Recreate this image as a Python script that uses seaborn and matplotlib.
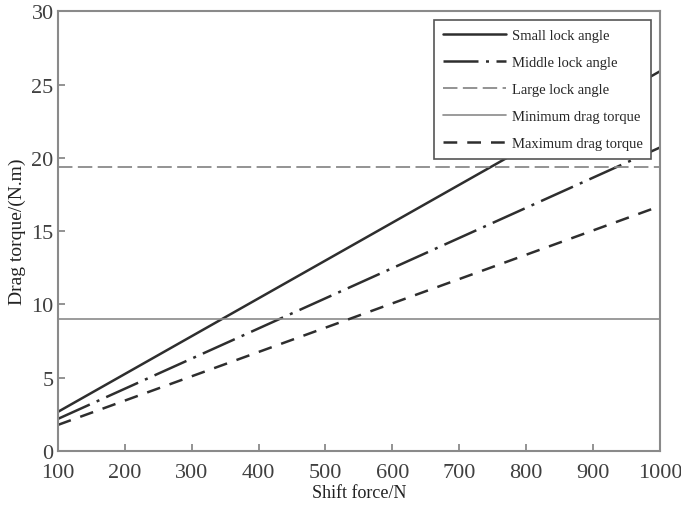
import numpy as np
import pandas as pd
import matplotlib
matplotlib.use('Agg')
import matplotlib.pyplot as plt
import seaborn as sns

# data (straight lines -> end points)
force = [100, 1000]
small_lock = [2.66, 25.9]
middle_lock = [2.18, 20.7]
large_lock = [1.77, 16.7]
min_drag = [9.0, 9.0]
max_drag = [19.4, 19.4]

labels = ['Small lock angle', 'Middle lock angle', 'Large lock angle',
          'Minimum drag torque', 'Maximum drag torque']
xticks = [100, 200, 300, 400, 500, 600, 700, 800, 900, 1000]
yticks = [0, 5, 10, 15, 20, 25, 30]

sns.set_style('white')
plt.rcParams['font.family'] = ['Liberation Serif', 'DejaVu Serif']

dark = '#2e2e2e'
grey = '#8a8a8a'

fig = plt.figure(figsize=(6.81, 5.10), dpi=100)
ax = fig.add_axes([0.085, 0.114, 0.884, 0.862])

# legend order follows the picture (labels as printed there)
sns.lineplot(x=force, y=small_lock, ax=ax, color=dark, lw=1.8, label=labels[0])
sns.lineplot(x=force, y=middle_lock, ax=ax, color=dark, lw=1.8, label=labels[1])
ax.lines[-1].set_dashes([14, 3, 1.2, 3])
sns.lineplot(x=force, y=max_drag, ax=ax, color=grey, lw=1.3, label=labels[2])
ax.lines[-1].set_dashes([8, 3])
sns.lineplot(x=force, y=min_drag, ax=ax, color=grey, lw=1.2, label=labels[3])
sns.lineplot(x=force, y=large_lock, ax=ax, color=dark, lw=1.8, label=labels[4])
ax.lines[-1].set_dashes([5.5, 4])

ax.set_xlim(100, 1000)
ax.set_ylim(0, 30)
ax.set_xticks(xticks)
ax.set_yticks(yticks)
ax.tick_params(axis='both', direction='in', length=5, width=1.3, color=grey,
               labelsize=16, labelcolor='#404040', pad=3,
               bottom=True, left=True)
ax.tick_params(axis='x', pad=9)
for s in ax.spines.values():
    s.set_color(grey)
    s.set_linewidth(1.5)

ax.set_xlabel('Shift force/N', fontsize=13, color='#222222', labelpad=1)
ax.set_ylabel('Drag torque/(N.m)', fontsize=14, color='#222222', labelpad=4)

leg = ax.legend(loc='upper right', fontsize=10.5, frameon=True, fancybox=False,
                framealpha=1, edgecolor='#555555', borderaxespad=0.6,
                handlelength=4.3, labelspacing=0.95, borderpad=0.6,
                handletextpad=0.4)
leg.get_frame().set_linewidth(1.2)
leg.set_zorder(10)

fig.savefig('out.png', dpi=100)
